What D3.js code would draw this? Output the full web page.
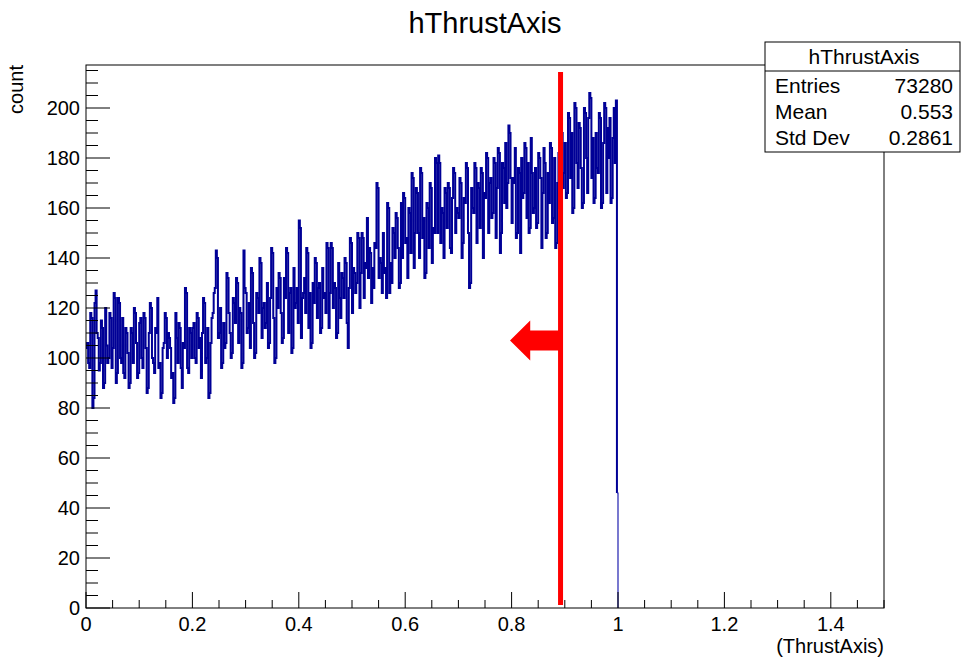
<!DOCTYPE html>
<html><head><meta charset="utf-8">
<script src="https://cdn.jsdelivr.net/npm/d3@7"></script>
<style>body{margin:0;background:#fff} svg{display:block} text{font-family:"Liberation Sans",Arial,Helvetica,sans-serif;fill:#000}</style>
</head><body><svg id="c" width="961" height="660"></svg>
<script>
const title = "hThrustAxis";
const xLabel = "(ThrustAxis)";
const yLabel = "count";
const xDomain = [0, 1.5];
const yDomain = [0, 217.2];
const binStart = 0, binWidth = 0.002;
const counts = [
104,106,98,96,118,116,80,84,122,127,
110,108,95,98,115,112,88,90,120,105,
98,100,118,116,96,104,126,124,90,94,
124,122,100,98,116,94,92,112,110,102,
88,90,112,110,98,120,118,106,92,94,
114,116,100,96,118,116,104,86,88,110,
122,120,100,98,94,112,110,124,96,98,
84,86,104,106,118,116,100,110,108,104,
92,94,82,84,118,108,98,114,112,96,
88,106,104,128,126,96,94,112,110,100,
112,114,100,98,118,116,104,108,92,110,
124,122,98,100,112,84,86,106,116,118,
126,128,143,140,108,110,120,96,98,114,
104,106,134,132,118,110,100,102,124,122,
114,132,130,106,120,118,96,98,143,128,
126,110,112,122,104,136,134,114,100,102,
126,124,118,140,138,108,120,122,112,114,
130,104,106,124,144,142,116,98,100,128,
120,134,132,118,106,108,132,124,144,142,
110,126,128,102,104,136,120,122,128,114,
155,152,108,124,126,132,118,144,142,112,
126,104,106,130,122,140,138,116,128,130,
110,112,136,124,126,118,146,144,112,126,
146,144,120,130,128,108,110,138,124,116,
134,132,124,140,138,114,104,128,148,146,
118,136,134,126,130,150,148,120,134,150,
148,124,138,136,156,132,144,142,122,136,
128,146,144,170,168,132,140,138,126,150,
134,136,124,162,160,126,138,130,152,150,
140,158,156,144,128,130,162,140,166,164,
146,148,132,160,158,142,174,172,136,150,
168,166,150,140,176,174,148,156,132,134,
162,160,144,170,168,138,152,150,180,178,
150,181,178,146,160,158,140,168,166,152,
170,168,144,142,164,176,174,150,160,158,
156,172,170,140,146,164,162,178,176,150,
128,130,168,160,158,178,176,146,170,168,
152,176,174,140,166,164,182,180,150,170,
172,156,158,180,178,148,168,184,182,142,
150,178,176,162,186,160,170,193,190,172,
154,172,170,184,148,150,176,174,142,180,
164,166,186,184,156,178,150,152,188,174,
158,160,176,152,154,182,180,172,144,166,
184,178,148,150,174,162,186,184,154,156,
180,144,146,170,182,160,192,190,168,174,
186,164,166,198,196,172,190,158,160,202,
200,178,168,194,192,176,160,162,200,198,
180,166,196,206,204,172,188,162,164,190,
176,174,198,196,160,162,186,202,200,166,
192,180,196,162,164,188,200,178,203,46
];
const xTickValues = [0, 0.2, 0.4, 0.6, 0.8, 1, 1.2, 1.4];
const xTickLabels = ["0", "0.2", "0.4", "0.6", "0.8", "1", "1.2", "1.4"];
const yTickValues = [0, 20, 40, 60, 80, 100, 120, 140, 160, 180, 200];
const yTickLabels = ["0", "20", "40", "60", "80", "100", "120", "140", "160", "180", "200"];
const statsLabels = ["Entries", "Mean", "Std Dev"];
const statsValues = ["73280", "0.553", "0.2861"];
const cutValue = 0.892;
const arrowTip = 0.797, arrowHeadBase = 0.835, arrowLevel = 107;

const svg = d3.select("#c");
const L = 86, R = 884, T = 65, B = 608;
const x = d3.scaleLinear().domain(xDomain).range([L, R]);
const y = d3.scaleLinear().domain(yDomain).range([B, T]);

// histogram step path (main body)
let p = d3.path();
p.moveTo(x(binStart), y(counts[0]));
counts.forEach((c, i) => {
  if (i === counts.length - 1) return;
  p.lineTo(x(binStart + (i + 1) * binWidth), y(c));
  p.lineTo(x(binStart + (i + 1) * binWidth), y(counts[i + 1]));
});
svg.append("path").attr("d", p.toString()).attr("fill", "none")
  .attr("stroke", "#000096").attr("stroke-width", 2);
// last bin, thin
const lastI = counts.length - 1;
const xe = x(binStart + (lastI + 1) * binWidth);
svg.append("path").attr("fill", "none").attr("stroke", "#2020b0").attr("stroke-width", 1.2)
  .attr("d", `M${x(binStart + lastI * binWidth)},${y(counts[lastI])}H${xe}V${y(0)}`);

// frame
svg.append("rect").attr("x", L).attr("y", T).attr("width", R - L).attr("height", B - T)
  .attr("fill", "none").attr("stroke", "#000").attr("stroke-width", 1);

// x ticks
const xMinor = d3.range(0, 1.5001, 0.05);
svg.append("g").selectAll("line").data(xMinor).join("line")
  .attr("x1", d => x(d)).attr("x2", d => x(d))
  .attr("y1", B).attr("y2", d => Math.abs(Math.round(d / 0.2) * 0.2 - d) < 1e-6 ? B - 16 : B - 8)
  .attr("stroke", "#000");
svg.append("g").selectAll("text").data(xTickValues).join("text")
  .attr("x", d => x(d)).attr("y", 631).attr("text-anchor", "middle")
  .attr("font-size", 20).text((d, i) => xTickLabels[i]);

// y ticks
const yMinor = d3.range(0, 216, 5);
svg.append("g").selectAll("line").data(yMinor).join("line")
  .attr("y1", d => y(d)).attr("y2", d => y(d))
  .attr("x1", L).attr("x2", d => d % 20 === 0 ? L + 24 : L + 12)
  .attr("stroke", "#000");
svg.append("g").selectAll("text").data(yTickValues).join("text")
  .attr("x", 80).attr("y", d => y(d) + 7).attr("text-anchor", "end")
  .attr("font-size", 20).text((d, i) => yTickLabels[i]);

// axis titles
svg.append("text").attr("x", R).attr("y", 653).attr("text-anchor", "end")
  .attr("font-size", 20).text(xLabel);
svg.append("text").attr("transform", "translate(23,65) rotate(-90)")
  .attr("text-anchor", "end").attr("font-size", 20).text(yLabel);

// title
svg.append("text").attr("x", 485).attr("y", 33).attr("text-anchor", "middle")
  .attr("font-size", 29).text(title);

// red cut line and arrow
const cx = x(cutValue);
svg.append("line").attr("x1", cx).attr("x2", cx).attr("y1", 72).attr("y2", 605)
  .attr("stroke", "#ff0000").attr("stroke-width", 5);
const ay = y(arrowLevel), tipX = x(arrowTip), hb = x(arrowHeadBase);
svg.append("path").attr("fill", "#ff0000")
  .attr("d", `M${tipX},${ay} L${hb},${ay - 20} L${hb},${ay - 10} L${cx},${ay - 10} L${cx},${ay + 10} L${hb},${ay + 10} L${hb},${ay + 20} Z`);

// stats box
const sb = svg.append("g");
sb.append("rect").attr("x", 765).attr("y", 42).attr("width", 195).attr("height", 110)
  .attr("fill", "#fff").attr("stroke", "#000");
sb.append("line").attr("x1", 765).attr("x2", 960).attr("y1", 71).attr("y2", 71).attr("stroke", "#000");
sb.append("text").attr("x", 864).attr("y", 64).attr("text-anchor", "middle").attr("font-size", 21).text(title);
statsLabels.forEach((lab, i) => {
  const yy = 93 + i * 26;
  sb.append("text").attr("x", 775).attr("y", yy).attr("font-size", 21).text(lab);
  sb.append("text").attr("x", 953).attr("y", yy).attr("text-anchor", "end").attr("font-size", 21).text(statsValues[i]);
});
</script></body></html>
